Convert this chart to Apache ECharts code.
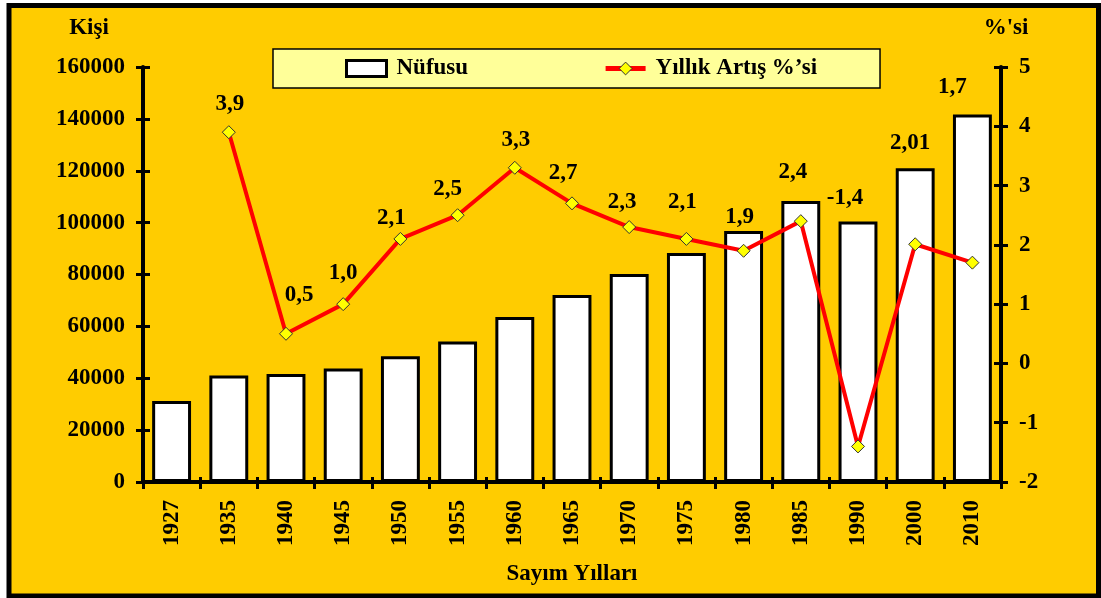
<!DOCTYPE html>
<html>
<head>
<meta charset="utf-8">
<title>Nüfus ve Yıllık Artış</title>
<script src="https://cdn.jsdelivr.net/npm/echarts@6/dist/echarts.min.js"></script>
<style>
  html, body { margin: 0; padding: 0; background: #ffffff; }
  #chart { width: 1101px; height: 598px; }
</style>
</head>
<body>
<div id="chart"></div>
<script>
// Census years on the category axis
const years = ['1927', '1935', '1940', '1945', '1950', '1955', '1960', '1965',
               '1970', '1975', '1980', '1985', '1990', '2000', '2010'];

// Population (persons) per census
const population = [31200, 41100, 41600, 43800, 48500, 54200, 63600, 72100,
                     80200, 88300, 96800, 108300, 100400, 121000, 141700];

// Annual growth rate (%) as printed, decimal comma; no rate for the first census
const growthText = [null, '3,9', '0,5', '1,0', '2,1', '2,5', '3,3', '2,7',
                    '2,3', '2,1', '1,9', '2,4', '-1,4', '2,01', '1,7'];
const growth = growthText.map(s => (s === null ? null : parseFloat(s.replace(',', '.'))));

// Axis tick values
const populationTicks = [0, 20000, 40000, 60000, 80000, 100000, 120000, 140000, 160000];
const rateTicks = [-2, -1, 0, 1, 2, 3, 4, 5];

// Where each rate label sits relative to its marker (px)
const labelOffsets = [null, [1, -28], [13, -39], [0, -31], [-9, -21], [-10, -26], [1, -28],
                      [-9, -30], [-7, -25], [-4, -37], [-4, -34], [-8, -49], [-13, -248],
                      [-5, -101], [-20, -176]];

const FONT = "'Liberation Serif', 'Times New Roman', serif";
const textBase = { fontFamily: FONT, fontWeight: 'bold', color: '#000000', fontSize: 23 };

const chart = echarts.init(document.getElementById('chart'), null, { renderer: 'canvas' });

const popMin = populationTicks[0];
const popMax = populationTicks[populationTicks.length - 1];
const popStep = populationTicks[1] - populationTicks[0];
const rateMin = rateTicks[0];
const rateMax = rateTicks[rateTicks.length - 1];
const rateStep = rateTicks[1] - rateTicks[0];

const axisLine = { show: true, lineStyle: { color: '#000000', width: 4 } };
const tickStyle = { color: '#000000', width: 3 };

const option = {
  backgroundColor: '#ffffff',
  animation: false,
  graphic: [
    {
      type: 'rect',
      z: -100,
      shape: { x: 9, y: 5.5, width: 1089.5, height: 590.5 },
      style: { fill: '#FFCC00', stroke: '#000000', lineWidth: 5 }
    }
  ],
  grid: {
    left: 143, right: 100, top: 67, bottom: 116,
    containLabel: false, outerBoundsMode: 'none'
  },
  legend: {
    left: 273, top: 49,
    orient: 'horizontal',
    backgroundColor: '#FFFF99',
    borderColor: '#000000',
    borderWidth: 1.5,
    borderRadius: 0,
    padding: [8, 63, 8, 72],
    itemGap: 135,
    itemWidth: 40,
    itemHeight: 16,
    textStyle: Object.assign({}, textBase, { padding: [0, 0, 0, 5] }),
    data: [
      { name: 'Nüfusu', icon: 'rect', itemStyle: { borderWidth: 3 } },
      {
        name: 'Yıllık Artış %’si',
        lineStyle: { width: 5 },
        itemStyle: { borderWidth: 1 }
      }
    ]
  },
  xAxis: [
    {
      type: 'category',
      data: years,
      position: 'bottom',
      boundaryGap: true,
      name: 'Sayım Yılları',
      nameLocation: 'middle',
      nameGap: 81,
      nameTextStyle: textBase,
      axisLine: axisLine,
      axisTick: { show: true, inside: false, length: 7, lineStyle: tickStyle },
      axisLabel: Object.assign({}, textBase, { rotate: 90, margin: 18, interval: 0 }),
      splitLine: { show: false }
    },
    {
      type: 'category',
      data: years,
      position: 'bottom',
      boundaryGap: true,
      axisLine: { show: false },
      axisTick: { show: true, inside: true, length: 5, lineStyle: tickStyle },
      axisLabel: { show: false },
      splitLine: { show: false }
    }
  ],
  yAxis: [
    {
      type: 'value',
      position: 'left',
      min: popMin, max: popMax, interval: popStep,
      name: 'Kişi',
      nameLocation: 'end',
      nameGap: 27,
      nameTextStyle: Object.assign({}, textBase, { align: 'center', padding: [0, 108, 0, 0] }),
      axisLine: axisLine,
      axisTick: { show: true, inside: false, length: 7, lineStyle: tickStyle },
      axisLabel: Object.assign({}, textBase, { margin: 18, formatter: v => String(v) }),
      splitLine: { show: false }
    },
    {
      type: 'value',
      position: 'left',
      min: popMin, max: popMax, interval: popStep,
      axisLine: { show: false },
      axisTick: { show: true, inside: true, length: 7, lineStyle: tickStyle },
      axisLabel: { show: false },
      splitLine: { show: false }
    },
    {
      type: 'value',
      position: 'right',
      min: rateMin, max: rateMax, interval: rateStep,
      name: "%'si",
      nameLocation: 'end',
      nameGap: 27,
      nameTextStyle: Object.assign({}, textBase, { align: 'center', padding: [0, 0, 0, 10] }),
      axisLine: axisLine,
      axisTick: { show: true, inside: false, length: 7, lineStyle: tickStyle },
      axisLabel: Object.assign({}, textBase, { margin: 18, formatter: v => String(v) }),
      splitLine: { show: false }
    },
    {
      type: 'value',
      position: 'right',
      min: rateMin, max: rateMax, interval: rateStep,
      axisLine: { show: false },
      axisTick: { show: true, inside: true, length: 7, lineStyle: tickStyle },
      axisLabel: { show: false },
      splitLine: { show: false }
    }
  ],
  series: [
    {
      name: 'Nüfusu',
      type: 'bar',
      xAxisIndex: 0,
      yAxisIndex: 0,
      barWidth: '68%',
      data: population,
      itemStyle: { color: '#FFFFFF', borderColor: '#000000', borderWidth: 3 },
      emphasis: { disabled: true }
    },
    {
      name: 'Yıllık Artış %’si',
      type: 'line',
      xAxisIndex: 0,
      yAxisIndex: 2,
      connectNulls: false,
      symbol: 'diamond',
      symbolSize: 13,
      z: 5,
      lineStyle: { color: '#FF0000', width: 4 },
      itemStyle: { color: '#FFFF00', borderColor: '#333333', borderWidth: 1 },
      label: Object.assign({}, textBase, {
        show: true,
        position: 'inside',
        formatter: p => growthText[p.dataIndex]
      }),
      emphasis: { disabled: true },
      data: growth.map((v, i) => (v === null ? '-' : { value: v, label: { offset: labelOffsets[i] } }))
    }
  ]
};

chart.setOption(option);
</script>
</body>
</html>
